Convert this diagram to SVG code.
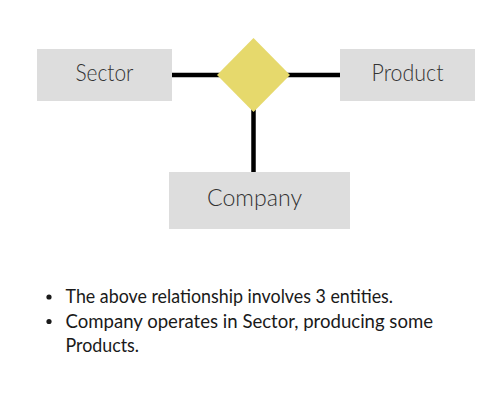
<svg xmlns="http://www.w3.org/2000/svg" width="500" height="400" viewBox="0 0 500 400">
<style>
.ent{fill:#dddddd}
.lbl{font-family:Lato,"Open Sans",sans-serif;font-weight:300;font-size:22.5px;fill:#333333;text-anchor:middle}
.conn{stroke:#000000;stroke-width:4.5;fill:none}
.txt{font-family:Lato,"Open Sans",sans-serif;font-size:18.5px;fill:#1a1a1a}
</style>
<rect width="500" height="400" fill="#ffffff"/>
<g id="connectors">
<line class="conn" x1="172" y1="75" x2="340" y2="75"/>
<line class="conn" x1="253.5" y1="75" x2="253.5" y2="172"/>
</g>
<g id="sector">
<rect class="ent" x="37" y="49" width="135" height="52"/>
<text class="lbl" x="104.5" y="81" textLength="58" lengthAdjust="spacingAndGlyphs">Sector</text>
</g>
<g id="product">
<rect class="ent" x="340" y="49" width="135" height="52"/>
<text class="lbl" x="407.5" y="81" textLength="72" lengthAdjust="spacingAndGlyphs">Product</text>
</g>
<g id="company">
<rect class="ent" x="169" y="172" width="181" height="57"/>
<text class="lbl" x="254.5" y="206" textLength="95" lengthAdjust="spacingAndGlyphs">Company</text>
</g>
<g id="relationship">
<polygon points="253.5,38 290,75 253.5,112 217,75" fill="#e6d96c"/>
</g>
<g id="notes">
<circle cx="49" cy="297" r="2.6" fill="#1a1a1a"/>
<circle cx="49" cy="321.5" r="2.6" fill="#1a1a1a"/>
<text class="txt" x="65.5" y="303" textLength="327.5" lengthAdjust="spacingAndGlyphs">The above relationship involves 3 entities.</text>
<text class="txt" x="65.5" y="327.5" textLength="367.5" lengthAdjust="spacingAndGlyphs">Company operates in Sector, producing some</text>
<text class="txt" x="65.5" y="352" textLength="73.5" lengthAdjust="spacingAndGlyphs">Products.</text>
</g>
</svg>
